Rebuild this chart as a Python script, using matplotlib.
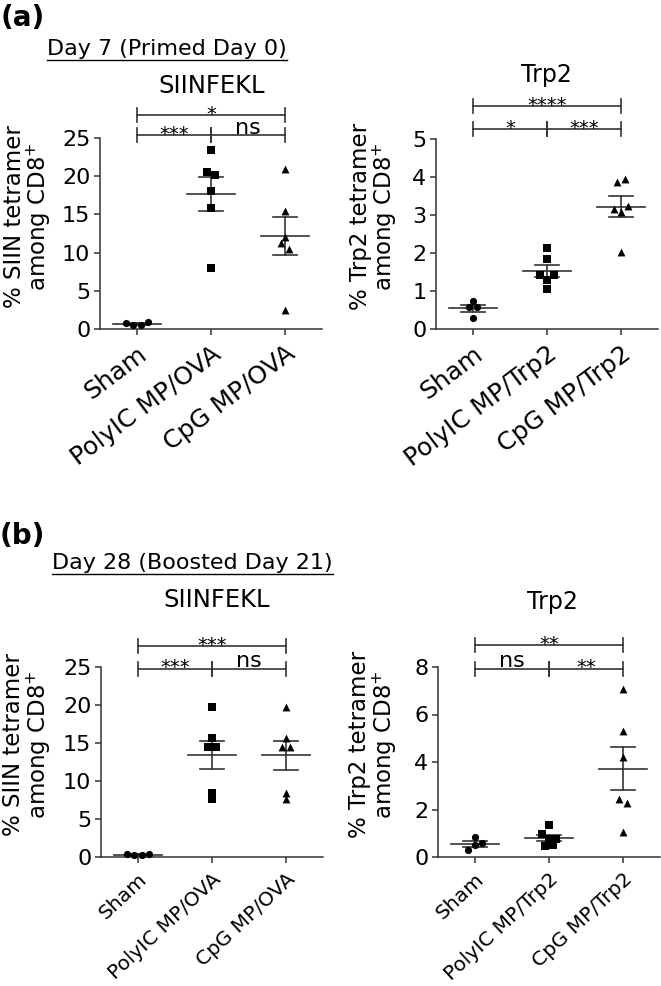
import numpy as np
import matplotlib
matplotlib.use("Agg")
import matplotlib.pyplot as plt
from matplotlib.lines import Line2D

plt.rcParams['font.family'] = ['DejaVu Sans']
plt.rcParams['mathtext.fontset'] = 'dejavusans'

W, H = 661, 986
INK = '#333333'

# ---- data ----
groups_ova = ['Sham', 'PolyIC MP/OVA', 'CpG MP/OVA']
groups_trp2 = ['Sham', 'PolyIC MP/Trp2', 'CpG MP/Trp2']

# day 7, SIINFEKL tetramer (%)
d7_siin_sham = [0.8, 0.5, 0.5, 0.95]
d7_siin_polyic = [23.4, 20.5, 20.2, 18.0, 15.9, 8.0]
d7_siin_cpg = [21.0, 15.4, 11.2, 12.1, 10.5, 2.5]

# day 7, Trp2 tetramer (%)
d7_trp2_sham = [0.58, 0.58, 0.73, 0.29]
d7_trp2_polyic = [2.12, 1.85, 1.41, 1.30, 1.41, 1.06]
d7_trp2_cpg = [3.87, 3.94, 3.17, 3.08, 3.23, 2.02]

# day 28, SIINFEKL tetramer (%)
d28_siin_sham = [0.35, 0.3, 0.3, 0.35]
d28_siin_polyic = [19.8, 15.7, 14.5, 14.5, 7.6, 8.4]
d28_siin_cpg = [19.8, 15.6, 14.5, 14.5, 7.6, 8.4]

# day 28, Trp2 tetramer (%)
d28_trp2_sham = [0.84, 0.28, 0.49, 0.6]
d28_trp2_polyic = [1.33, 0.98, 0.77, 0.77, 0.45, 0.52]
d28_trp2_cpg = [7.09, 5.29, 4.21, 2.43, 2.27, 1.05]

# significance: (sham vs polyic, polyic vs cpg, sham vs cpg)
sig_d7_siin = ['***', 'ns', '*']
sig_d7_trp2 = ['*', '***', '****']
sig_d28_siin = ['***', 'ns', '***']
sig_d28_trp2 = ['ns', '**', '**']

markers = ['o', 's', '^']


def px_axes(l, r, t, b):
    return fig.add_axes([l / W, 1 - b / H, (r - l) / W, (b - t) / H])


def swarm_offsets(vals, tol, step):
    # spread points that sit close together (GraphPad style)
    vals = np.asarray(vals, float)
    order = np.argsort(vals, kind='stable')
    off = np.zeros(len(vals))
    clusters = [[order[0]]]
    for i in order[1:]:
        if vals[i] - vals[clusters[-1][-1]] < tol:
            clusters[-1].append(i)
        else:
            clusters.append([i])
    for c in clusters:
        c = sorted(c)  # keep listed order left to right
        n = len(c)
        for k, idx in enumerate(c):
            off[idx] = (k - (n - 1) / 2) * step
    return off


def panel(ax, data, labels, ymax, ystep, ylabel, sig, bar_lo, bar_hi,
          ylab_x, tick_fs, tick_rot):
    ax.set_xlim(-0.5, 2.5)
    ax.set_ylim(0, ymax)
    units_per_px = ymax / (ax.get_position().height * H)
    for i, vals in enumerate(data):
        off = swarm_offsets(vals, 5.5 * units_per_px, 0.1)
        ax.scatter(i + off, vals, marker=markers[i], s=27 if i < 2 else 32,
                   color='black', linewidths=0, zorder=3, clip_on=False)
        m = np.mean(vals)
        se = np.std(vals, ddof=1) / np.sqrt(len(vals))
        ax.plot([i - 0.33, i + 0.33], [m, m], color=INK, lw=1.2, zorder=2)
        ax.plot([i - 0.165, i + 0.165], [m + se, m + se], color=INK, lw=1.2)
        ax.plot([i - 0.165, i + 0.165], [m - se, m - se], color=INK, lw=1.2)
        ax.plot([i, i], [m - se, m + se], color=INK, lw=1.2)

    for s in ['top', 'right']:
        ax.spines[s].set_visible(False)
    for s in ['left', 'bottom']:
        ax.spines[s].set_color(INK)
        ax.spines[s].set_linewidth(1.1)
    ax.set_yticks(np.arange(0, ymax + 0.01, ystep))
    ax.set_yticklabels([f'{v:g}' for v in np.arange(0, ymax + 0.01, ystep)])
    ax.set_xticks([0, 1, 2])
    ax.set_xticklabels(labels, rotation=tick_rot, ha='right',
                       rotation_mode='anchor', fontsize=tick_fs)
    ax.tick_params(axis='y', labelsize=16, length=4, width=1.1, color=INK, pad=3)
    ax.tick_params(axis='x', length=4, width=1.1, color=INK, pad=5)

    ax.text(ylab_x, 0.59, ylabel, transform=ax.transAxes, rotation=90,
            ha='center', va='center', fontsize=16.5, linespacing=0.95,
            multialignment='center')

    # significance brackets
    tr = ax.get_xaxis_transform()
    hh = 7.0 / (ax.get_position().height * H)
    spans = [(0, 1, bar_lo), (1, 2, bar_lo), (0, 2, bar_hi)]
    for (a, b, y), txt in zip(spans, sig):
        ax.plot([a, b], [y, y], color=INK, lw=1.2, transform=tr, clip_on=False)
        for xx in (a, b):
            ax.plot([xx, xx], [y - hh, y + hh], color=INK, lw=1.2,
                    transform=tr, clip_on=False)
        if txt == 'ns':
            ax.annotate(txt, xy=((a + b) / 2, y), xycoords=tr, xytext=(0, 1),
                        textcoords='offset points', ha='center', va='baseline',
                        fontsize=16)
        else:
            ax.annotate(txt, xy=((a + b) / 2, y), xycoords=tr, xytext=(0, -3.4),
                        textcoords='offset points', ha='center', va='baseline',
                        fontsize=14)


fig = plt.figure(figsize=(W / 100, H / 100), dpi=100)

lab_siin = '% SIIN tetramer\namong CD8$^{+}$'
lab_trp2 = '% Trp2 tetramer\namong CD8$^{+}$'

ax1 = px_axes(100, 322, 138, 329)
panel(ax1, [d7_siin_sham, d7_siin_polyic, d7_siin_cpg], groups_ova, 25, 5,
      lab_siin, sig_d7_siin, 1.016, 1.12, -0.325, 18, 37)
ax2 = px_axes(436, 658, 139, 329)
panel(ax2, [d7_trp2_sham, d7_trp2_polyic, d7_trp2_cpg], groups_trp2, 5, 1,
      lab_trp2, sig_d7_trp2, 1.053, 1.173, -0.28, 18, 37)
ax3 = px_axes(101, 323, 667, 857)
panel(ax3, [d28_siin_sham, d28_siin_polyic, d28_siin_cpg], groups_ova, 25, 5,
      lab_siin, sig_d28_siin, 0.992, 1.111, -0.33, 14.5, 43)
ax4 = px_axes(438, 660, 667, 857)
panel(ax4, [d28_trp2_sham, d28_trp2_polyic, d28_trp2_cpg], groups_trp2, 8, 2,
      lab_trp2, sig_d28_trp2, 0.992, 1.114, -0.29, 14.5, 43)


def ftext(x, y, s, **kw):
    return fig.text(x / W, 1 - y / H, s, **kw)


ftext(1, 18, '(a)', fontsize=20, fontweight='bold', va='center', ha='left')
ftext(0, 536, '(b)', fontsize=20, fontweight='bold', va='center', ha='left')
t1 = ftext(47, 55, 'Day 7 (Primed Day 0)', fontsize=16, va='baseline', ha='left')
t2 = ftext(52, 569, 'Day 28 (Boosted Day 21)', fontsize=16, va='baseline', ha='left')

ftext(212, 86, 'SIINFEKL', fontsize=17.5, va='center', ha='center')
ftext(546, 75, 'Trp2', fontsize=17, va='center', ha='center')
ftext(217, 600, 'SIINFEKL', fontsize=17.5, va='center', ha='center')
ftext(552, 602, 'Trp2', fontsize=17, va='center', ha='center')

# underline the day headers
fig.canvas.draw()
for t, uy in ((t1, 60), (t2, 574)):
    bb = t.get_window_extent()
    fig.add_artist(Line2D([bb.x0 / W, bb.x1 / W], [1 - uy / H, 1 - uy / H],
                          transform=fig.transFigure, color='black', lw=1.0))

fig.savefig('out.png', dpi=100)
